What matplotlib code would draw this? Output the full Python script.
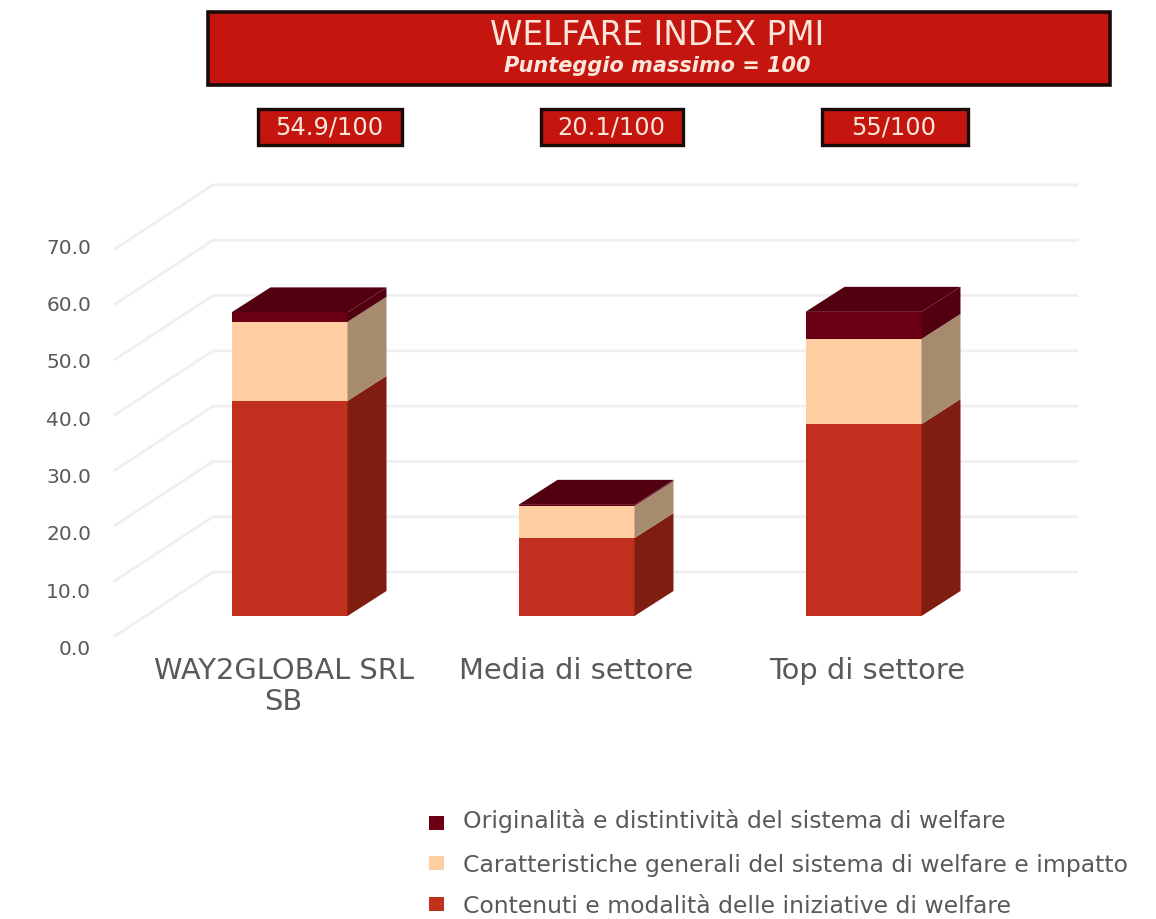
import matplotlib
matplotlib.use("Agg")
import matplotlib.pyplot as plt
from matplotlib.patches import Polygon, Rectangle

plt.rcParams["font.family"] = ["DejaVu Sans"]

# -------------------- data -------------------- #
categories = ["WAY2GLOBAL SRL\nSB", "Media di settore", "Top di settore"]
contenuti = [38.9, 14.1, 34.7]
caratteristiche = [14.3, 5.8, 15.4]
originalita = [1.7, 0.2, 4.9]
scores = ["54.9/100", "20.1/100", "55/100"]
y_ticks = [0, 10, 20, 30, 40, 50, 60, 70]
series_names = [
    "Originalità e distintività del sistema di welfare",
    "Caratteristiche generali del sistema di welfare e impatto",
    "Contenuti e modalità delle iniziative di welfare",
]

W, H = 1156, 920
X0, XSTEP = 289.5, 287.0   # pixel of first category, pixels per category
Y0, YSCALE = 617.0, 5.53   # pixel of value 0 at bar front, pixels per unit

RED, RED_SIDE = "#C1301E", "#7F1D10"
PEACH, PEACH_SIDE = "#FFCFA3", "#A68B6E"
DARK, DARK_SIDE, DARK_TOP = "#6B0014", "#52000F", "#52000F"
BANNER = "#C4150F"
GRID = "#EFEFEF"
TEXT = "#595959"

BAR_W = 116 / XSTEP
DX, DY = 39 / XSTEP, 25 / YSCALE


def px(x, y):
    """figure pixel (from top left) to data coords"""
    return (x - X0) / XSTEP, (Y0 - y) / YSCALE


fig = plt.figure(figsize=(W / 100, H / 100), dpi=100)
ax = fig.add_axes([0, 0, 1, 1])
ax.set_xlim(px(0, 0)[0], px(W, 0)[0])
ax.set_ylim(px(0, H)[1], px(0, 0)[1])
ax.axis("off")

# -------------------- walls / gridlines -------------------- #
wall_x, wall_y = px(213, 573)
wall_right = px(1077, 0)[0]
front_x, front_y = px(115, 637)
for v in y_ticks:
    ax.plot([front_x, wall_x, wall_right], [front_y + v, wall_y + v, wall_y + v],
            color=GRID, lw=2.0, zorder=1, solid_joinstyle="miter")
    # tick labels are a bit more spread out than the lines
    ly = px(0, 655 - 5.73 * v)[1]
    ax.text(px(91, 0)[0], ly, f"{v:.1f}", ha="right", va="baseline", fontsize=14.5,
            color=TEXT, zorder=5)

# -------------------- bars -------------------- #
xs = list(range(len(categories)))
bottoms = [0.0] * len(xs)
layers = [
    (contenuti, RED, RED_SIDE),
    (caratteristiche, PEACH, PEACH_SIDE),
    (originalita, DARK, DARK_SIDE),
]
for vals, col, side in layers:
    ax.bar(xs, vals, BAR_W, bottom=bottoms, color=col, linewidth=0, zorder=3)
    for x, b, v in zip(xs, bottoms, vals):
        r = x + BAR_W / 2
        ax.add_patch(Polygon([(r, b), (r + DX, b + DY), (r + DX, b + v + DY), (r, b + v)],
                             closed=True, facecolor=side, edgecolor="none", zorder=3))
    bottoms = [b + v for b, v in zip(bottoms, vals)]

for x, top in zip(xs, bottoms):
    l, r = x - BAR_W / 2, x + BAR_W / 2
    ax.add_patch(Polygon([(l, top), (r, top), (r + DX, top + DY), (l + DX, top + DY)],
                         closed=True, facecolor=DARK_TOP, edgecolor="none", zorder=4))

# -------------------- category labels -------------------- #
label_offset = [-6, 0, 4]
for x, name, off in zip(xs, categories, label_offset):
    ax.text(x + off / XSTEP, px(0, 657)[1], name, ha="center", va="top", fontsize=20.8,
            color=TEXT, linespacing=1.12, zorder=5)


# -------------------- banner + score boxes -------------------- #
def box(x0, y0, x1, y1, lw):
    (ax0, ay0), (ax1, ay1) = px(x0, y1), px(x1, y0)
    ax.add_patch(Rectangle((ax0, ay0), ax1 - ax0, ay1 - ay0, facecolor=BANNER,
                           edgecolor="#1A0A08", linewidth=lw, zorder=6))


box(208, 13, 1110, 86, 2.6)
tx, ty = px(657, 35)
ax.text(tx, ty, "WELFARE INDEX PMI", ha="center", va="center", fontsize=23.6,
        color="#FBE6DC", zorder=7)
tx, ty = px(657, 66)
ax.text(tx, ty, "Punteggio massimo = 100", ha="center", va="center", fontsize=15,
        style="italic", weight="bold", color="#FBE6DC", zorder=7)

score_boxes = [(258, 402), (541, 683), (822, 968)]
for (x0, x1), s in zip(score_boxes, scores):
    box(x0, 110, x1, 146, 2.4)
    tx, ty = px((x0 + x1) / 2 - 1, 127)
    ax.text(tx, ty, s, ha="center", va="center", fontsize=17.4, color="#FBE6DC", zorder=7)

# -------------------- legend -------------------- #
marker_rows = [823.5, 864, 905]
text_rows = [828, 872, 913]
leg_cols = [DARK, PEACH, RED]
for my, ty_, col, name in zip(marker_rows, text_rows, leg_cols, series_names):
    lx, ly = px(429, my + 7)
    ax.add_patch(Rectangle((lx, ly), 15 / XSTEP, 14 / YSCALE, facecolor=col, edgecolor="none"))
    tx, ty = px(463, ty_)
    ax.text(tx, ty, name, ha="left", va="baseline", fontsize=16.9, color=TEXT)

fig.savefig("out.png", dpi=100, facecolor="white")
